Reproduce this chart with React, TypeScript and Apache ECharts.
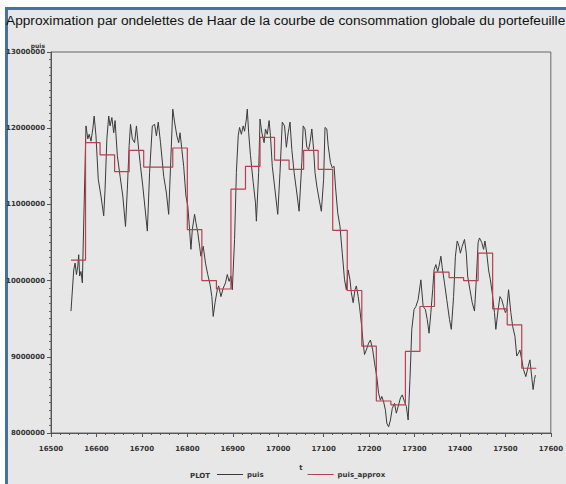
import { useEffect, useRef } from "react";
import * as echarts from "echarts";

const TITLE =
  "Approximation par ondelettes de Haar de la courbe de consommation globale du portefeuille";

const xTicks = [16500, 17600, 100];
const yTicks = [8000000, 13000000, 1000000];

const tPuis = [
  16544, 16550, 16553, 16556, 16559, 16561, 16563, 16566, 16569, 16577, 16581, 16584, 16588, 16592,
  16595, 16599, 16604, 16610, 16616, 16619, 16623, 16627, 16630, 16634, 16638, 16641, 16646, 16652,
  16658, 16664, 16668, 16672, 16675, 16679, 16684, 16688, 16693, 16697, 16702, 16712, 16717, 16723,
  16728, 16732, 16736, 16741, 16748, 16754, 16759, 16764, 16768, 16772, 16777, 16781, 16784, 16788,
  16792, 16797, 16801, 16805, 16808, 16811, 16816, 16819, 16823, 16827, 16830, 16835, 16840, 16845,
  16850, 16854, 16857, 16861, 16866, 16869, 16874, 16879, 16884, 16888, 16892, 16896, 16899, 16904,
  16908, 16912, 16915, 16919, 16923, 16926, 16930, 16932, 16935, 16939, 16945, 16950, 16952, 16957,
  16960, 16964, 16969, 16972, 16976, 16980, 16983, 16987, 16992, 16999, 17004, 17009, 17014, 17018,
  17022, 17026, 17030, 17035, 17041, 17046, 17052, 17055, 17059, 17063, 17067, 17070, 17074, 17078,
  17081, 17085, 17090, 17095, 17100, 17103, 17107, 17110, 17115, 17119, 17123, 17126, 17131, 17136,
  17141, 17146, 17150, 17154, 17158, 17161, 17165, 17169, 17172, 17176, 17179, 17183, 17187, 17190,
  17194, 17199, 17203, 17208, 17212, 17217, 17221, 17225, 17228, 17232, 17236, 17239, 17243, 17247,
  17251, 17256, 17260, 17265, 17269, 17273, 17278, 17282, 17286, 17290, 17294, 17299, 17303, 17308,
  17314, 17319, 17324, 17328, 17332, 17336, 17340, 17343, 17347, 17351, 17354, 17358, 17361, 17366,
  17371, 17377, 17381, 17386, 17390, 17394, 17398, 17401, 17405, 17410, 17414, 17417, 17422, 17427,
  17432, 17436, 17440, 17443, 17448, 17452, 17455, 17459, 17463, 17467, 17471, 17476, 17479, 17484,
  17488, 17492, 17496, 17500, 17503, 17507, 17512, 17516, 17521, 17525, 17529, 17532, 17536, 17540,
  17545, 17550, 17554, 17557, 17561, 17564, 17566,
];

const puis = [
  9.6e6, 10.14e6, 10.23e6, 10.08e6, 10.19e6, 10.34e6, 10.06e6, 10.12e6, 9.97e6, 12.03e6, 11.86e6, 11.92e6, 11.83e6, 11.99e6,
  12.16e6, 11.9e6, 11.33e6, 11.11e6, 10.85e6, 11.2e6, 11.86e6, 12.16e6, 12.03e6, 12.14e6, 11.94e6, 12.1e6, 11.64e6, 11.37e6,
  11.11e6, 10.71e6, 11.2e6, 11.77e6, 12.05e6, 11.86e6, 11.81e6, 12.03e6, 11.72e6, 11.5e6, 11.24e6, 10.65e6, 11.42e6, 12.03e6,
  12.05e6, 11.9e6, 12.08e6, 11.81e6, 11.37e6, 11.15e6, 10.87e6, 11.64e6, 12.25e6, 12.08e6, 11.9e6, 11.81e6, 11.94e6, 11.72e6,
  11.5e6, 11.11e6, 10.98e6, 10.67e6, 10.41e6, 10.67e6, 10.87e6, 10.76e6, 10.63e6, 10.45e6, 10.32e6, 10.45e6, 10.23e6, 10.08e6,
  9.95e6, 9.79e6, 9.53e6, 9.71e6, 9.88e6, 9.93e6, 9.79e6, 9.9e6, 9.97e6, 10.08e6, 9.99e6, 10.06e6, 9.88e6, 10.54e6,
  11.42e6, 11.9e6, 12.01e6, 11.92e6, 12.03e6, 11.96e6, 12.12e6, 12.25e6, 11.94e6, 11.64e6, 11.29e6, 11.02e6, 10.78e6, 11.42e6,
  12.12e6, 11.94e6, 11.81e6, 11.99e6, 11.92e6, 12.1e6, 11.9e6, 11.5e6, 11.24e6, 10.87e6, 11.42e6, 12.08e6, 12.03e6, 11.75e6,
  11.94e6, 12.08e6, 11.72e6, 11.42e6, 11.15e6, 10.91e6, 11.55e6, 12.03e6, 11.99e6, 11.75e6, 11.72e6, 11.81e6, 11.99e6, 11.72e6,
  11.42e6, 11.24e6, 11.07e6, 10.91e6, 11.33e6, 12.01e6, 11.99e6, 11.77e6, 11.55e6, 11.48e6, 11.5e6, 11.24e6, 10.89e6, 10.71e6,
  10.36e6, 10.01e6, 9.88e6, 10.14e6, 10.01e6, 9.84e6, 9.71e6, 9.88e6, 9.93e6, 9.79e6, 9.66e6, 9.44e6, 9.18e6, 9.03e6,
  9.09e6, 9.18e6, 9.22e6, 9.09e6, 8.92e6, 8.74e6, 8.52e6, 8.43e6, 8.48e6, 8.41e6, 8.3e6, 8.13e6, 8.08e6, 8.17e6,
  8.32e6, 8.39e6, 8.26e6, 8.37e6, 8.46e6, 8.5e6, 8.41e6, 8.35e6, 8.17e6, 8.7e6, 9.36e6, 9.62e6, 9.66e6, 9.75e6,
  10.01e6, 9.66e6, 9.62e6, 9.49e6, 9.31e6, 9.58e6, 9.88e6, 10.14e6, 10.21e6, 10.12e6, 10.19e6, 10.32e6, 10.17e6, 9.97e6,
  9.75e6, 9.49e6, 9.36e6, 9.79e6, 10.32e6, 10.52e6, 10.45e6, 10.36e6, 10.45e6, 10.54e6, 10.36e6, 10.06e6, 9.88e6, 9.71e6,
  9.6e6, 10.01e6, 10.5e6, 10.56e6, 10.5e6, 10.41e6, 10.52e6, 10.36e6, 10.14e6, 10.01e6, 9.84e6, 9.58e6, 9.36e6, 9.62e6,
  9.79e6, 9.75e6, 9.66e6, 9.58e6, 9.62e6, 9.88e6, 9.58e6, 9.4e6, 9.27e6, 9.01e6, 9.05e6, 9.09e6, 8.96e6, 8.83e6,
  8.74e6, 8.87e6, 8.96e6, 8.79e6, 8.57e6, 8.7e6, 8.76e6,
];

const haarStart = [
  16544, 16576, 16608, 16640, 16672, 16704, 16736, 16768, 16800, 16832, 16864, 16896, 16928, 16960,
  16992, 17024, 17056, 17088, 17120, 17152, 17184, 17216, 17248, 17280, 17312, 17344, 17376, 17408,
  17440, 17472, 17504, 17536, 17568,
];

const puisApprox = [
  10.27e6, 11.81e6, 11.65e6, 11.43e6, 11.71e6, 11.49e6, 11.49e6, 11.74e6, 10.67e6, 10.0e6, 9.89e6, 11.2e6, 11.5e6, 11.88e6,
  11.58e6, 11.46e6, 11.71e6, 11.46e6, 10.66e6, 9.87e6, 9.14e6, 8.42e6, 8.37e6, 9.07e6, 9.66e6, 10.11e6, 10.04e6, 10.0e6,
  10.36e6, 9.63e6, 9.42e6, 8.85e6, 8.85e6,
];

const legendNames = ["puis", "puis_approx"];

const BG = "#e7e7e7";
const BLUE = "#47729c";
const AXIS_FONT = { fontSize: 7, fontWeight: "bold" as const, color: "#333", fontFamily: "DejaVu Sans" };

export default function App() {
  const ref = useRef<HTMLDivElement>(null);
  useEffect(() => {
    const chart = echarts.init(ref.current!, null, { renderer: "svg" });
    chart.setOption({
      animation: false,
      backgroundColor: BG,
      title: {
        text: TITLE,
        left: 6,
        top: 13,
        padding: 0,
        textStyle: { fontFamily: "Liberation Sans", fontSize: 13.7, fontWeight: "normal", color: "#111" },
      },
      graphic: [
        { type: "rect", shape: { x: 0, y: 0, width: 566, height: 7 }, style: { fill: "#fff" }, silent: true },
        { type: "rect", shape: { x: 0, y: 0, width: 5, height: 484 }, style: { fill: "#fff" }, silent: true },
        { type: "rect", shape: { x: 5, y: 7, width: 561, height: 3 }, style: { fill: BLUE }, silent: true },
        { type: "rect", shape: { x: 5, y: 7, width: 3, height: 477 }, style: { fill: BLUE }, silent: true },
        {
          type: "text",
          left: 190,
          top: 472,
          style: { text: "PLOT", fontSize: 7, fontWeight: "bold", fill: "#333", fontFamily: "DejaVu Sans" },
        },
      ],
      grid: {
        left: 51,
        right: 9,
        top: 52,
        bottom: 51,
        show: true,
        borderColor: "#666",
        borderWidth: 1,
        backgroundColor: "transparent",
      },
      legend: {
        data: legendNames.map((n) => ({ name: n, icon: "rect" })),
        left: 217,
        top: 471,
        padding: 0,
        itemWidth: 26,
        itemHeight: 1,
        itemGap: 44,
        textStyle: { ...AXIS_FONT, padding: [0, 0, 0, -1] },
      },
      xAxis: {
        type: "value",
        min: xTicks[0],
        max: xTicks[1],
        interval: xTicks[2],
        name: "t",
        nameLocation: "middle",
        nameGap: 31,
        nameTextStyle: AXIS_FONT,
        axisLine: { show: true, lineStyle: { color: "#555" } },
        axisTick: { show: true, length: 4, lineStyle: { color: "#555" } },
        minorTick: { show: true, splitNumber: 5, length: 2, lineStyle: { color: "#555" } },
        axisLabel: { ...AXIS_FONT, margin: 12, formatter: (v: number) => String(v) },
        splitLine: { show: false },
      },
      yAxis: {
        type: "value",
        min: yTicks[0],
        max: yTicks[1],
        interval: yTicks[2],
        name: "puis",
        nameLocation: "end",
        nameGap: 3,
        nameTextStyle: { ...AXIS_FONT, fontSize: 6, align: "right", padding: [0, 6, 0, 0] },
        axisLine: { show: true, lineStyle: { color: "#555" } },
        axisTick: { show: true, length: 4, lineStyle: { color: "#555" } },
        minorTick: { show: true, splitNumber: 10, length: 2, lineStyle: { color: "#666" } },
        axisLabel: { ...AXIS_FONT, margin: 6, formatter: (v: number) => String(v) },
        splitLine: { show: false },
      },
      series: [
        {
          name: "puis",
          type: "line",
          data: tPuis.map((t, i) => [t, puis[i]]),
          showSymbol: false,
          symbol: "none",
          color: "#3a3a3a",
          lineStyle: { width: 1, color: "#3a3a3a" },
        },
        {
          name: "puis_approx",
          type: "line",
          step: "end",
          data: haarStart.map((t, i) => [t, puisApprox[i]]),
          showSymbol: false,
          symbol: "none",
          color: "#b5404e",
          lineStyle: { width: 1.2, color: "#b5404e" },
        },
      ],
    });
    return () => chart.dispose();
  }, []);
  return (
    <div
      ref={ref}
      style={{ position: "absolute", left: 0, top: 0, width: 566, height: 484 }}
    />
  );
}
